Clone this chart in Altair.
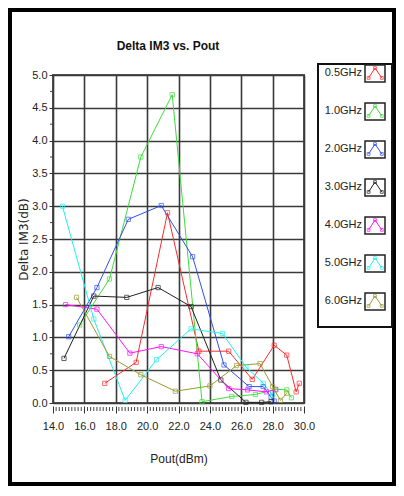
import altair as alt
import pandas as pd

series = ["0.5GHz", "1.0GHz", "2.0GHz", "3.0GHz", "4.0GHz", "5.0GHz", "6.0GHz"]
colors = ["#ff2a2a", "#3ddc3d", "#2f4ff0", "#222222", "#ff10ff", "#1ff0f0", "#9a9a30"]

x_05 = [17.3, 19.3, 21.3, 23.3, 25.2, 26.7, 28.1, 28.9, 29.5, 29.7]
y_05 = [0.30, 0.62, 2.90, 0.79, 0.79, 0.36, 0.88, 0.73, 0.17, 0.30]
x_10 = [15.7, 17.6, 19.6, 21.6, 23.5, 25.4, 26.9, 28.2, 28.9, 29.2]
y_10 = [1.19, 1.89, 3.75, 4.70, 0.02, 0.10, 0.13, 0.21, 0.20, 0.08]
x_20 = [15.0, 16.8, 18.8, 20.9, 22.9, 24.9, 26.5, 27.4, 27.9, 28.1]
y_20 = [1.01, 1.76, 2.80, 3.01, 2.23, 0.58, 0.25, 0.25, 0.09, 0.03]
x_30 = [14.7, 16.6, 18.7, 20.7, 22.8, 24.7, 26.3, 27.3, 27.9]
y_30 = [0.68, 1.63, 1.61, 1.76, 1.47, 0.35, 0.01, 0.01, 0.02]
x_40 = [14.8, 16.8, 18.9, 20.9, 23.2, 25.2, 26.4, 27.6, 28.2]
y_40 = [1.50, 1.43, 0.76, 0.86, 0.75, 0.22, 0.20, 0.17, 0.20]
x_50 = [14.6, 16.6, 18.6, 20.6, 22.8, 24.8, 26.3, 27.4, 28.0]
y_50 = [3.00, 1.28, 0.04, 0.66, 1.13, 1.06, 0.55, 0.30, 0.12]
x_60 = [15.5, 17.6, 19.6, 21.8, 24.0, 25.7, 27.2, 28.0, 28.5, 28.9]
y_60 = [1.61, 0.71, 0.43, 0.18, 0.26, 0.57, 0.60, 0.25, 0.04, 0.15]

x_ticks = [14, 16, 18, 20, 22, 24, 26, 28, 30]
y_ticks = [0, 0.5, 1.0, 1.5, 2.0, 2.5, 3.0, 3.5, 4.0, 4.5, 5.0]
x_minor = [round(14 + 0.2 * k, 1) for k in range(81) if k % 10 != 0]
y_minor = [0.25 + 0.5 * k for k in range(10)]

all_x = [x_05, x_10, x_20, x_30, x_40, x_50, x_60]
all_y = [y_05, y_10, y_20, y_30, y_40, y_50, y_60]
rows = []
for name, xs_, ys_ in zip(series, all_x, all_y):
    for i, (a, b) in enumerate(zip(xs_, ys_)):
        rows.append({"series": name, "x": a, "y": b, "k": i})
df = pd.DataFrame(rows)

# legend data (icon shape: left-low, top-mid, right-low)
leg = pd.DataFrame({"series": series, "i": list(range(len(series)))})
icon_rows = []
for i, name in enumerate(series):
    for j, (u, v) in enumerate([(0.18, 0.34), (0.5, 0.08), (0.84, 0.34)]):
        icon_rows.append({"series": name, "u": u, "v": i + v, "j": j})
icon = pd.DataFrame(icon_rows)
leg["top"] = leg["i"]
leg["bot"] = leg["i"] + 0.45
leg["mid"] = leg["i"] + 0.22
leg["lx"] = -0.15
leg["b0"] = 0.0
leg["b1"] = 1.0

W, H = 251, 328
FONT = "Liberation Sans"

xs = alt.Scale(domain=[14, 30], nice=False, zero=False)
ys = alt.Scale(domain=[0, 5], nice=False, zero=False)
cs = alt.Scale(domain=series, range=colors)

x_axis = alt.Axis(values=x_ticks, format=".1f", title="Pout(dBm)", grid=True,
                  gridColor="#3a3a3a", gridWidth=1.6, domain=False, offset=3,
                  tickSize=7, tickColor="#333", labelPadding=7, labelFontSize=11,
                  labelFont=FONT, titleFont=FONT, titleFontSize=12,
                  titleFontWeight="normal", titlePadding=22, labelColor="#222",
                  titleColor="#222", labelOverlap=False, labelFlush=False)
y_axis = alt.Axis(values=y_ticks, format=".1f", title="Delta IM3(dB)", grid=True,
                  gridColor="#3a3a3a", gridWidth=1.6, domain=False, tickSize=4,
                  tickColor="#333", labelPadding=2, labelFontSize=11, labelFont=FONT,
                  titleFont="DejaVu Sans", titleFontSize=12, titleFontWeight="normal",
                  titlePadding=1, labelColor="#222", titleColor="#222",
                  labelOverlap=False, labelFlush=False)

base = alt.Chart(df)
lines = base.mark_line(strokeWidth=1).encode(
    x=alt.X("x:Q", scale=xs, axis=x_axis),
    y=alt.Y("y:Q", scale=ys, axis=y_axis),
    color=alt.Color("series:N", scale=cs, legend=None),
    order="k:Q",
)
points = base.mark_point(shape="square", size=18, filled=False, strokeWidth=1).encode(
    x=alt.X("x:Q", scale=xs, axis=x_axis),
    y=alt.Y("y:Q", scale=ys, axis=y_axis),
    color=alt.Color("series:N", scale=cs, legend=None),
)

xm = alt.Chart(pd.DataFrame({"x": x_minor})).mark_rule(color="#444", strokeWidth=1).encode(
    x=alt.X("x:Q", scale=xs, axis=x_axis), y=alt.value(H + 4), y2=alt.value(H + 8))
ym = alt.Chart(pd.DataFrame({"y": y_minor})).mark_rule(color="#444", strokeWidth=1).encode(
    y=alt.Y("y:Q", scale=ys, axis=y_axis), x=alt.value(-3), x2=alt.value(0))

one = pd.DataFrame({"a": [0]})
frame = alt.Chart(one).mark_rect(fill=None, stroke="black", strokeWidth=4).encode(
    x=alt.value(-43), x2=alt.value(341), y=alt.value(-65), y2=alt.value(409))
title = alt.Chart(one).mark_text(text="Delta IM3 vs. Pout", font=FONT, fontSize=12,
                                 fontWeight="bold", color="#111").encode(
    x=alt.value(115), y=alt.value(-29))

main = alt.layer(lines, points, xm, ym, frame, title)

lxs = alt.Scale(domain=[0, 1], range=[312, 332], nice=False, zero=False)
lys = alt.Scale(domain=[0, 7], range=[-10, 256], nice=False, zero=False)

lframe = alt.Chart(one).mark_rect(fill="white", stroke="#111", strokeWidth=2).encode(
    x=alt.value(265), x2=alt.value(339), y=alt.value(-11), y2=alt.value(252))
lbg = alt.Chart(leg)
boxes = lbg.mark_rect(fill="white", stroke="#222", strokeWidth=1.5).encode(
    x=alt.X("b0:Q", scale=lxs, axis=None), x2="b1:Q",
    y=alt.Y("top:Q", scale=lys, axis=None), y2="bot:Q")
labels = lbg.mark_text(align="right", baseline="middle", font=FONT, fontSize=11,
                       color="#222").encode(
    x=alt.X("lx:Q", scale=lxs, axis=None),
    y=alt.Y("mid:Q", scale=lys, axis=None),
    text="series:N")
ic = alt.Chart(icon)
icon_lines = ic.mark_line(strokeWidth=1).encode(
    x=alt.X("u:Q", scale=lxs, axis=None), y=alt.Y("v:Q", scale=lys, axis=None),
    color=alt.Color("series:N", scale=cs, legend=None), order="j:Q")
icon_pts = ic.mark_point(shape="square", size=8, filled=False, strokeWidth=1).encode(
    x=alt.X("u:Q", scale=lxs, axis=None), y=alt.Y("v:Q", scale=lys, axis=None),
    color=alt.Color("series:N", scale=cs, legend=None))

legend = alt.layer(lframe, boxes, labels, icon_lines, icon_pts)

chart = alt.layer(main, legend).resolve_scale(x="independent", y="independent").properties(
    width=W, height=H,
    autosize=alt.AutoSizeParams(type="none"),
    padding={"left": 45, "top": 67, "right": 92, "bottom": 83},
    background="white",
).configure_view(stroke="#555", strokeWidth=2)

chart.save("out.html", embed_options={"renderer": "svg", "actions": False})
